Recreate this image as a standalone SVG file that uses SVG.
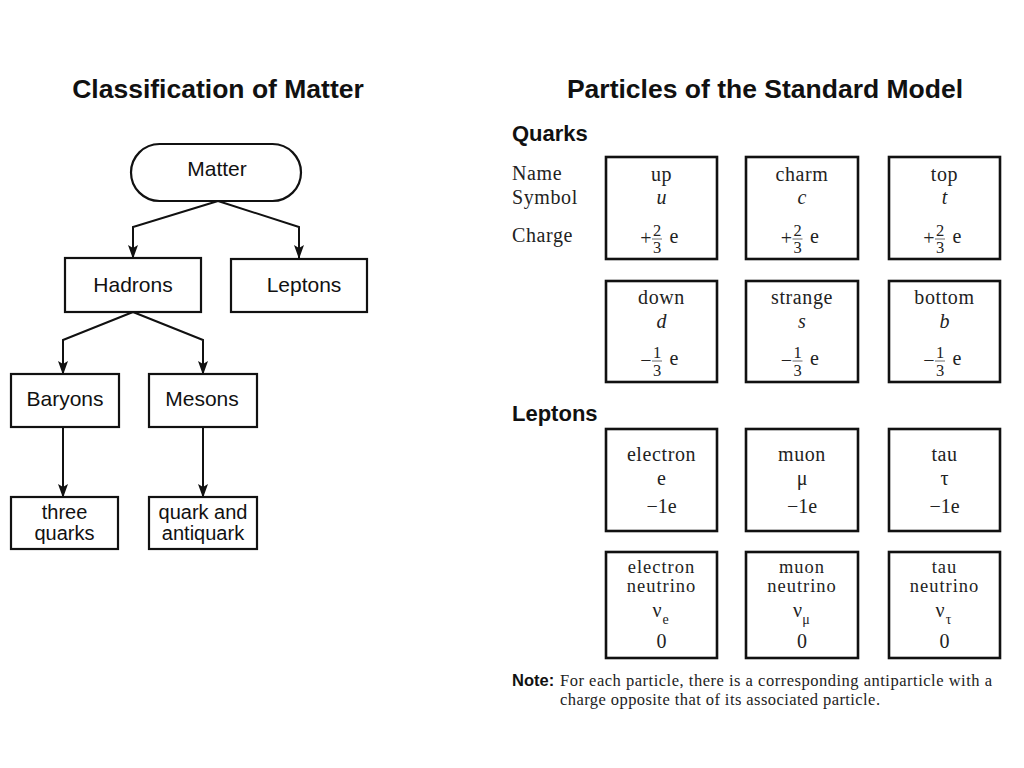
<svg xmlns="http://www.w3.org/2000/svg" width="1024" height="768" viewBox="0 0 1024 768">
<defs>
<style>
.title{font-family:"Liberation Sans",Arial,sans-serif;font-weight:bold;font-size:26.5px;fill:#111;text-anchor:middle}
.head{font-family:"Liberation Sans",Arial,sans-serif;font-weight:bold;font-size:22px;fill:#111}
.node{fill:#fff;stroke:#111;stroke-width:2.2}
.ntext{font-family:"Liberation Sans",Arial,sans-serif;font-size:21px;fill:#111;text-anchor:middle}
.ntext2{font-family:"Liberation Sans",Arial,sans-serif;font-size:20px;fill:#111;text-anchor:middle}
.conn{fill:none;stroke:#111;stroke-width:2}
.pbox{fill:#fff;stroke:#111;stroke-width:2.6}
.s{font-family:"Liberation Serif","Times New Roman",serif;font-size:20px;letter-spacing:0.6px;fill:#222}
.s2{font-family:"Liberation Serif","Times New Roman",serif;font-size:18.5px;letter-spacing:1px;fill:#222;text-anchor:middle}
.g{font-family:"Liberation Serif","Times New Roman",serif;font-size:20px;fill:#222;text-anchor:middle}
.c{text-anchor:middle}
.i{font-style:italic}
.fr{font-family:"Liberation Serif","Times New Roman",serif;font-size:16.5px;fill:#222;text-anchor:middle}
.sub{font-family:"Liberation Serif","Times New Roman",serif;font-size:14px;fill:#222;text-anchor:middle}
.bar{stroke:#444;stroke-width:0.8}
.note{font-family:"Liberation Serif","Times New Roman",serif;font-size:16.5px;fill:#222}
.noteb{font-family:"Liberation Sans",Arial,sans-serif;font-weight:bold;font-size:16.5px;fill:#111}
</style>
<marker id="arr" markerUnits="userSpaceOnUse" markerWidth="10" markerHeight="14" refX="5" refY="13" orient="0" viewBox="0 0 10 14">
<path d="M0,0 L5,3 L10,0 L5,14 Z" fill="#111"/>
</marker>
</defs>
<rect width="1024" height="768" fill="#fff"/>

<text class="title" x="218" y="98">Classification of Matter</text>
<text class="title" x="765" y="98">Particles of the Standard Model</text>

<g id="connectors">
<path class="conn" d="M218,201 L133,227 L133,258" marker-end="url(#arr)"/>
<path class="conn" d="M218,201 L299,227 L299,258" marker-end="url(#arr)"/>
<path class="conn" d="M133,312 L63,340 L63,374" marker-end="url(#arr)"/>
<path class="conn" d="M133,312 L203,340 L203,374" marker-end="url(#arr)"/>
<path class="conn" d="M63,427 L63,497" marker-end="url(#arr)"/>
<path class="conn" d="M203,427 L203,497" marker-end="url(#arr)"/>
</g>

<g id="matter"><rect class="node" x="131" y="144" width="170" height="57" rx="28.5"/><text class="ntext" x="217" y="176">Matter</text></g>
<g id="hadrons"><rect class="node" x="65" y="258" width="136" height="54"/><text class="ntext" x="133" y="292">Hadrons</text></g>
<g id="leptons"><rect class="node" x="231" y="259" width="136" height="53"/><text class="ntext" x="304" y="292">Leptons</text></g>
<g id="baryons"><rect class="node" x="11" y="374" width="108" height="53"/><text class="ntext" x="65" y="406">Baryons</text></g>
<g id="mesons"><rect class="node" x="149" y="374" width="108" height="53"/><text class="ntext" x="202" y="406">Mesons</text></g>
<g id="three-quarks"><rect class="node" x="11" y="497" width="107" height="52"/><text class="ntext2" x="64.5" y="519">three</text><text class="ntext2" x="64.5" y="540">quarks</text></g>
<g id="quark-antiquark"><rect class="node" x="149" y="497" width="108" height="52"/><text class="ntext2" x="203" y="519">quark and</text><text class="ntext2" x="203" y="540">antiquark</text></g>

<text class="head" x="512" y="141">Quarks</text>
<text class="s" x="512" y="180">Name</text>
<text class="s" x="512" y="204">Symbol</text>
<text class="s" x="512" y="242">Charge</text>

<!-- quark row 1 -->
<g id="up">
<rect class="pbox" x="606" y="157" width="111" height="102"/>
<text class="s c" x="661.5" y="181">up</text>
<text class="g i" x="661.5" y="204">u</text>
<text class="g" x="646" y="245">+</text>
<text class="fr" x="657" y="236">2</text><line class="bar" x1="652" y1="239" x2="662" y2="239"/><text class="fr" x="657" y="253">3</text>
<text class="g" x="674" y="243">e</text>
</g>
<g id="charm">
<rect class="pbox" x="746" y="157" width="112" height="102"/>
<text class="s c" x="802" y="181">charm</text>
<text class="g i" x="802" y="204">c</text>
<text class="g" x="786.5" y="245">+</text>
<text class="fr" x="797.5" y="236">2</text><line class="bar" x1="792.5" y1="239" x2="802.5" y2="239"/><text class="fr" x="797.5" y="253">3</text>
<text class="g" x="814.5" y="243">e</text>
</g>
<g id="top">
<rect class="pbox" x="889" y="157" width="111" height="102"/>
<text class="s c" x="944.5" y="181">top</text>
<text class="g i" x="944.5" y="204">t</text>
<text class="g" x="929" y="245">+</text>
<text class="fr" x="940" y="236">2</text><line class="bar" x1="935" y1="239" x2="945" y2="239"/><text class="fr" x="940" y="253">3</text>
<text class="g" x="957" y="243">e</text>
</g>

<!-- quark row 2 -->
<g id="down">
<rect class="pbox" x="606" y="281" width="111" height="101"/>
<text class="s c" x="661.5" y="304">down</text>
<text class="g i" x="661.5" y="328">d</text>
<text class="g" x="646" y="367">−</text>
<text class="fr" x="657" y="358">1</text><line class="bar" x1="652" y1="361" x2="662" y2="361"/><text class="fr" x="657" y="376">3</text>
<text class="g" x="674" y="365">e</text>
</g>
<g id="strange">
<rect class="pbox" x="746" y="281" width="112" height="101"/>
<text class="s c" x="802" y="304">strange</text>
<text class="g i" x="802" y="328">s</text>
<text class="g" x="786.5" y="367">−</text>
<text class="fr" x="797.5" y="358">1</text><line class="bar" x1="792.5" y1="361" x2="802.5" y2="361"/><text class="fr" x="797.5" y="376">3</text>
<text class="g" x="814.5" y="365">e</text>
</g>
<g id="bottom">
<rect class="pbox" x="889" y="281" width="111" height="101"/>
<text class="s c" x="944.5" y="304">bottom</text>
<text class="g i" x="944.5" y="328">b</text>
<text class="g" x="929" y="367">−</text>
<text class="fr" x="940" y="358">1</text><line class="bar" x1="935" y1="361" x2="945" y2="361"/><text class="fr" x="940" y="376">3</text>
<text class="g" x="957" y="365">e</text>
</g>

<text class="head" x="512" y="421">Leptons</text>

<g id="electron">
<rect class="pbox" x="606" y="429" width="111" height="102"/>
<text class="s c" x="661.5" y="461">electron</text>
<text class="g" x="661.5" y="485">e</text>
<text class="g" x="661.5" y="513">−1e</text>
</g>
<g id="muon">
<rect class="pbox" x="746" y="429" width="112" height="102"/>
<text class="s c" x="802" y="461">muon</text>
<text class="g" x="802" y="485">μ</text>
<text class="g" x="802" y="513">−1e</text>
</g>
<g id="tau">
<rect class="pbox" x="889" y="429" width="111" height="102"/>
<text class="s c" x="944.5" y="461">tau</text>
<text class="g" x="944.5" y="485">τ</text>
<text class="g" x="944.5" y="513">−1e</text>
</g>

<g id="electron-neutrino">
<rect class="pbox" x="606" y="552" width="111" height="106"/>
<text class="s2" x="661.5" y="573">electron</text>
<text class="s2" x="661.5" y="592">neutrino</text>
<text class="g" x="657" y="617">ν</text><text class="sub" x="665.5" y="624">e</text>
<text class="g" x="661.5" y="648">0</text>
</g>
<g id="muon-neutrino">
<rect class="pbox" x="746" y="552" width="112" height="106"/>
<text class="s2" x="802" y="573">muon</text>
<text class="s2" x="802" y="592">neutrino</text>
<text class="g" x="797.5" y="617">ν</text><text class="sub" x="806" y="624">μ</text>
<text class="g" x="802" y="648">0</text>
</g>
<g id="tau-neutrino">
<rect class="pbox" x="889" y="552" width="111" height="106"/>
<text class="s2" x="944.5" y="573">tau</text>
<text class="s2" x="944.5" y="592">neutrino</text>
<text class="g" x="940" y="617">ν</text><text class="sub" x="948.5" y="624">τ</text>
<text class="g" x="944.5" y="648">0</text>
</g>

<text class="noteb" x="512" y="686">Note:</text>
<text class="note" x="560" y="686" textLength="432" lengthAdjust="spacing">For each particle, there is a corresponding antiparticle with a</text>
<text class="note" x="560" y="705" textLength="320" lengthAdjust="spacing">charge opposite that of its associated particle.</text>
</svg>
